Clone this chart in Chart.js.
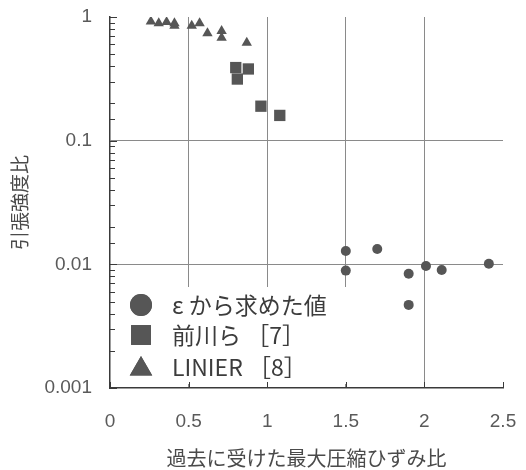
<!DOCTYPE html>
<html lang="ja">
<head>
<meta charset="UTF-8">
<title>引張強度比</title>
<script src="https://cdn.jsdelivr.net/npm/chart.js"></script>
<style>
  html, body { margin: 0; padding: 0; background: #fff; }
  #wrap { width: 526px; height: 470px; }
</style>
</head>
<body>
<div id="wrap"><canvas id="chart" width="526" height="470"></canvas></div>
<script>
// データ
const seriesNames = ['ε から求めた値', '前川ら ［7］', 'LINIER ［8］'];

const circleX = [1.50, 1.70, 1.50, 1.90, 2.01, 2.11, 2.41, 1.90];
const circleY = [0.0128, 0.0133, 0.0089, 0.0084, 0.0097, 0.0090, 0.0101, 0.0047];

const squareX = [0.80, 0.88, 0.81, 0.96, 1.08];
const squareY = [0.39, 0.38, 0.315, 0.19, 0.16];

const triX = [0.26, 0.31, 0.36, 0.41, 0.41, 0.52, 0.57, 0.62, 0.71, 0.71, 0.87];
const triY = [0.92, 0.89, 0.91, 0.89, 0.85, 0.85, 0.89, 0.74, 0.77, 0.68, 0.62];

const xTickLabels = ['0', '0.5', '1', '1.5', '2', '2.5'];
const yTickLabels = ['0.001', '0.01', '0.1', '1'];

const toPoints = (xs, ys) => xs.map((x, i) => ({ x: x, y: ys[i] }));

const markColor = '#565656';
const gridColor = '#8a8a8a';
const axisColor = '#3a3a3a';
const textColor = '#5a5a5a';

// 凡例 (グラフ内左下) と内向き目盛
const innerLegend = {
  id: 'innerLegend',
  afterDatasetsDraw(chart) {
    const ctx = chart.ctx;
    const xs = chart.scales.x, ys = chart.scales.y;
    const area = chart.chartArea;
    ctx.save();
    // 白い凡例ボックス
    const bx = area.left + 2, by = 287, bw = 240, bh = area.bottom - 4 - by;
    ctx.fillStyle = '#fff';
    ctx.fillRect(bx, by, bw, bh);

    // 内向きの目盛
    ctx.strokeStyle = axisColor;
    ctx.lineWidth = 1;
    ys.ticks.forEach(t => {
      const p = Math.round(ys.getPixelForValue(t.value)) + 0.5;
      const major = Math.abs(Math.log10(t.value) - Math.round(Math.log10(t.value))) < 1e-6;
      ctx.beginPath();
      ctx.moveTo(area.left, p);
      ctx.lineTo(area.left + (major ? 7 : 5), p);
      ctx.stroke();
    });
    xs.ticks.forEach(t => {
      const p = Math.round(xs.getPixelForValue(t.value)) + 0.5;
      ctx.beginPath();
      ctx.moveTo(p, area.bottom);
      ctx.lineTo(p, area.bottom - 6);
      ctx.stroke();
    });

    // 凡例項目
    const rows = [305, 335, 367];
    const styles = ['circle', 'rect', 'triangle'];
    const radii = [11, 14, 13];
    ctx.fillStyle = markColor;
    rows.forEach((y, i) => {
      Chart.helpers.drawPoint(ctx, {
        pointStyle: styles[i], radius: radii[i], borderWidth: 0
      }, 141, i === 2 ? y + 2 : y);
      ctx.fill();
    });
    ctx.fillStyle = '#3c3c3c';
    ctx.textBaseline = 'middle';
    ctx.textAlign = 'left';
    ctx.font = '23px "Noto Sans CJK JP", "DejaVu Sans", sans-serif';
    rows.forEach((y, i) => {
      ctx.fillText(seriesNames[i], 172, y);
    });
    ctx.restore();
  }
};

const ctx = document.getElementById('chart').getContext('2d');
new Chart(ctx, {
  type: 'scatter',
  data: {
    datasets: [
      {
        label: seriesNames[0],
        data: toPoints(circleX, circleY),
        pointStyle: 'circle',
        pointRadius: 5,
        backgroundColor: markColor,
        borderColor: markColor,
        borderWidth: 0
      },
      {
        label: seriesNames[1],
        data: toPoints(squareX, squareY),
        pointStyle: 'rect',
        pointRadius: 8,
        backgroundColor: markColor,
        borderColor: markColor,
        borderWidth: 0
      },
      {
        label: seriesNames[2],
        data: toPoints(triX, triY),
        pointStyle: 'triangle',
        pointRadius: 6,
        backgroundColor: markColor,
        borderColor: markColor,
        borderWidth: 0
      }
    ]
  },
  options: {
    responsive: false,
    animation: false,
    layout: { padding: { top: 17, right: 23, left: 0, bottom: 0 } },
    plugins: {
      legend: { display: false },
      tooltip: { enabled: false }
    },
    scales: {
      x: {
        type: 'linear',
        min: 0,
        max: 2.5,
        afterFit(scale) {
          scale.height = 82;
          scale.paddingLeft = 0;
          scale.paddingRight = 0;
        },
        grid: {
          color: c => (c.tick && c.tick.value > 0 && c.tick.value < 2.5) ? gridColor : 'rgba(0,0,0,0)',
          lineWidth: 1,
          drawTicks: false
        },
        border: { color: axisColor, width: 1.5 },
        ticks: {
          stepSize: 0.5,
          padding: 22,
          maxRotation: 0,
          color: textColor,
          font: { family: '"Liberation Sans", Arial, sans-serif', size: 19 },
          callback: (v, i) => xTickLabels[i]
        },
        title: {
          display: true,
          text: '過去に受けた最大圧縮ひずみ比',
          color: '#4a4a4a',
          padding: { top: 0, bottom: 0 },
          font: { family: '"Noto Sans CJK JP", sans-serif', size: 20 }
        }
      },
      y: {
        type: 'logarithmic',
        min: 0.001,
        max: 1,
        afterFit(scale) {
          scale.width = 110;
          scale.paddingTop = 0;
          scale.paddingBottom = 0;
        },
        grid: {
          color: c => {
            if (!c.tick) return 'rgba(0,0,0,0)';
            const l = Math.log10(c.tick.value);
            const major = Math.abs(l - Math.round(l)) < 1e-6;
            return (major && c.tick.value < 1 && c.tick.value > 0.001) ? gridColor : 'rgba(0,0,0,0)';
          },
          lineWidth: 1,
          drawTicks: false
        },
        border: { color: axisColor, width: 1.5 },
        ticks: {
          autoSkip: false,
          padding: 18,
          color: textColor,
          font: { family: '"Liberation Sans", Arial, sans-serif', size: 19 },
          callback: v => {
            const l = Math.log10(v);
            if (Math.abs(l - Math.round(l)) > 1e-6) return '';
            return yTickLabels[Math.round(l) + 3];
          }
        },
        title: {
          display: true,
          text: '引張強度比',
          color: '#4a4a4a',
          padding: { top: 8, bottom: 0 },
          font: { family: '"Noto Sans CJK JP", sans-serif', size: 19 }
        }
      }
    }
  },
  plugins: [innerLegend]
});
</script>
</body>
</html>
